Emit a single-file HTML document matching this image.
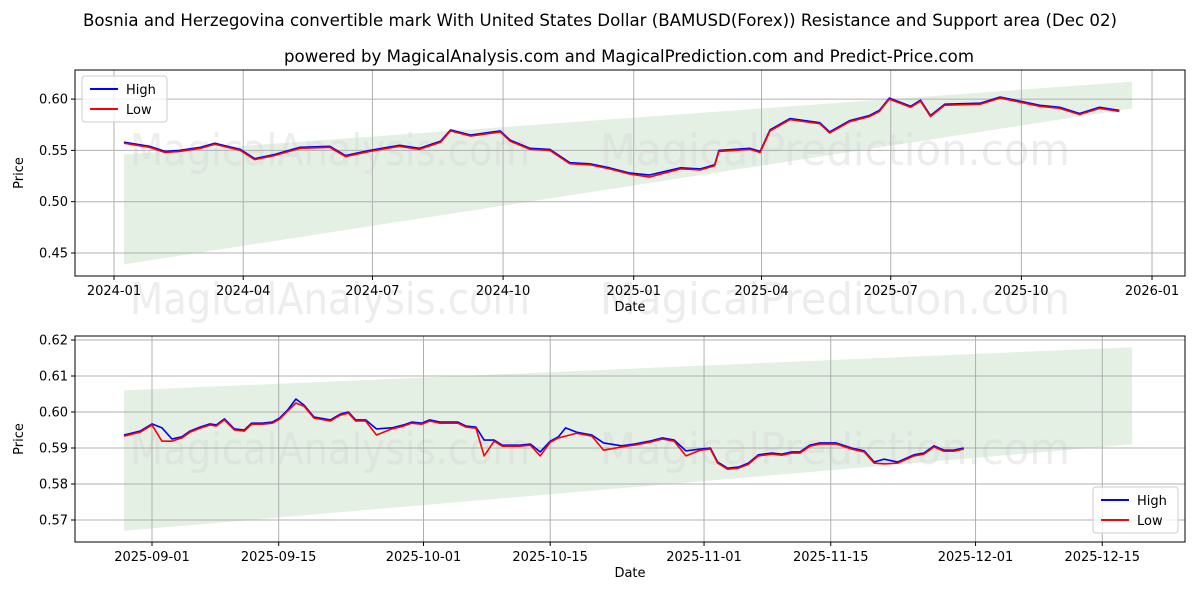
<!DOCTYPE html>
<html><head><meta charset="utf-8"><style>
body{margin:0;background:#fff;font-family:"Liberation Sans","DejaVu Sans",sans-serif}
svg text{font-family:"DejaVu Sans","Liberation Sans",sans-serif}
</style></head><body>
<svg id="c" width="1200" height="600" xmlns="http://www.w3.org/2000/svg">
<text x="600" y="26" text-anchor="middle" font-size="16.5" textLength="1034" lengthAdjust="spacingAndGlyphs">Bosnia and Herzegovina convertible mark With United States Dollar (BAMUSD(Forex)) Resistance and Support area (Dec 02)</text>
<text x="629" y="62" text-anchor="middle" font-size="16.5" textLength="690" lengthAdjust="spacingAndGlyphs">powered by MagicalAnalysis.com and MagicalPrediction.com and Predict-Price.com</text>
<text x="130" y="314" font-size="44" textLength="400" lengthAdjust="spacingAndGlyphs" fill="#d8d8d8" fill-opacity="0.45">MagicalAnalysis.com</text>
<text x="600" y="314" font-size="44" textLength="470" lengthAdjust="spacingAndGlyphs" fill="#d8d8d8" fill-opacity="0.45">MagicalPrediction.com</text>
</svg>
<script>
// top chart data (days from 2024-01-01)
const topDays=[7,25,36,46,61,71,89,99,113,131,152,163,180,201,215,230,237,251,272,279,293,307,321,335,349,363,377,399,413,423,426,448,455,462,476,497,504,518,532,539,546,561,568,575,585,610,624,638,652,666,680,694,708];
const topHigh=[.558,.554,.549,.550,.553,.557,.551,.542,.546,.553,.554,.545,.550,.555,.552,.559,.570,.565,.569,.560,.552,.551,.538,.537,.533,.528,.526,.533,.532,.536,.550,.552,.549,.570,.581,.577,.568,.579,.584,.589,.601,.593,.599,.584,.595,.596,.602,.598,.594,.592,.586,.592,.589];
const topLow=[.557,.553,.548,.549,.552,.556,.550,.541,.545,.552,.553,.544,.549,.554,.551,.558,.569,.564,.568,.559,.551,.550,.537,.536,.532,.527,.524,.532,.531,.535,.549,.551,.548,.569,.580,.576,.567,.578,.583,.588,.600,.592,.598,.583,.594,.595,.601,.597,.593,.591,.585,.591,.588];
const topBandDays=[7,717];
const topBandUpper=[.546,.617];
const topBandLower=[.439,.591];
const topYTicks=[0.45,0.50,0.55,0.60];
const topXTickDays=[0,91,182,274,366,456,547,639,731];
const topXTickLabels=["2024-01","2024-04","2024-07","2024-10","2025-01","2025-04","2025-07","2025-10","2026-01"];
// bottom chart data (days from 2025-09-01)
const botDays=[-3.1,-1.3,0,1.1,2.2,3.3,4.2,5.3,6.4,7.1,8,9.1,10.2,11,12.2,13.3,14.1,15,15.9,16.8,17.9,19.7,20.8,21.7,22.5,23.6,24.8,26.5,27.8,28.7,29.8,30.7,31.8,33.8,34.7,35.8,36.7,37.8,38.7,40.7,41.8,42.9,44,44.9,45.7,46.9,48.6,49.9,51.9,53.3,55,56.4,57.7,59,60.6,61.7,62.5,63.6,64.8,65.9,67,68.5,69.6,70.7,71.6,72.7,73.8,75.6,77.3,78.7,79.8,80.9,82.4,84.2,85.3,86.4,87.5,88.6,89.7];
const botHigh=[.5936,.5947,.5967,.5956,.5925,.5931,.5947,.5958,.5967,.5964,.5981,.5953,.595,.5969,.5969,.5972,.5983,.6006,.6036,.6019,.5986,.5978,.5994,.6,.5978,.5978,.5953,.5956,.5964,.5972,.5969,.5978,.5972,.5972,.5961,.5958,.5922,.5922,.5908,.5908,.5911,.5889,.5919,.5931,.5956,.5944,.5936,.5914,.5906,.5911,.5919,.5928,.5922,.5892,.5897,.59,.5861,.5844,.5847,.5858,.5881,.5886,.5883,.5889,.5889,.5908,.5914,.5914,.59,.5892,.5861,.5869,.5861,.5881,.5886,.5906,.5894,.5894,.59];
const botLowAdj={3:.5919,4:.5919,18:.6025,26:.5936,36:.5878,41:.5878,44:.5933,47:.5894,53:.5878,71:.5856};
const botLow=botHigh.map((v,i)=>botLowAdj[i]!==undefined?botLowAdj[i]:v-0.0003);
const botBandDays=[-3.1,108.3];
const botBandUpper=[.606,.618];
const botBandLower=[.567,.591];
const botYTicks=[0.57,0.58,0.59,0.60,0.61,0.62];
const botXTickDays=[0,14,30,44,61,75,91,105];
const botXTickLabels=["2025-09-01","2025-09-15","2025-10-01","2025-10-15","2025-11-01","2025-11-15","2025-12-01","2025-12-15"];

const NS="http://www.w3.org/2000/svg",svg=document.getElementById('c');
function mk(t,a,p){const e=document.createElementNS(NS,t);for(const k in a)e.setAttribute(k,a[k]);(p||svg).appendChild(e);return e;}
function panel(o){
 const g=mk('g',{});
 
 
 const X=d=>o.x0+(d-o.d0)*o.pxd, Y=v=>o.yb-(v-o.v0)*o.pxv;
 const band=mk('polygon',{points:`${X(o.bd[0])},${Y(o.bu[0])} ${X(o.bd[1])},${Y(o.bu[1])} ${X(o.bd[1])},${Y(o.bl[1])} ${X(o.bd[0])},${Y(o.bl[0])}`,fill:'#e3f0e3'},g);
 
 
 const wm1=mk('text',{x:130,y:o.wy,'font-size':44,textLength:400,lengthAdjust:'spacingAndGlyphs',fill:'#d8d8d8','fill-opacity':0.45},g);wm1.textContent='MagicalAnalysis.com';
 
 
 const wm2=mk('text',{x:600,y:o.wy,'font-size':44,textLength:470,lengthAdjust:'spacingAndGlyphs',fill:'#d8d8d8','fill-opacity':0.45},g);wm2.textContent='MagicalPrediction.com';
 
 
 o.xt.forEach((d,i)=>{const x=X(d);mk('line',{x1:x,x2:x,y1:o.T,y2:o.T+o.H,stroke:'#b0b0b0','stroke-width':1},g);mk('line',{x1:x,x2:x,y1:o.T+o.H,y2:o.T+o.H+4,stroke:'#000'},g);
  const t=mk('text',{x:x,y:o.T+o.H+19,'text-anchor':'middle','font-size':13},g);t.textContent=o.xl[i];
  
  });
 o.yt.forEach(v=>{const y=Y(v);mk('line',{x1:o.L,x2:o.L+o.W,y1:y,y2:y,stroke:'#b0b0b0'},g);mk('line',{x1:o.L-4,x2:o.L,y1:y,y2:y,stroke:'#000'},g);
  const t=mk('text',{x:o.L-7,y:y+4.5,'text-anchor':'end','font-size':13},g);t.textContent=v.toFixed(o.dec);
  
  });
 [[o.hi,'#0000ff','high-line'],[o.lo,'#ff0000','low-line']].forEach(([s,c,n])=>{const p=mk('polyline',{points:o.days.map((d,i)=>X(d)+','+Y(s[i])).join(' '),fill:'none',stroke:c,'stroke-width':1.6,'stroke-linejoin':'round'},g);
  
  });
 mk('rect',{x:o.L,y:o.T,width:o.W,height:o.H,fill:'none',stroke:'#000','stroke-width':1},g);
 const xl=mk('text',{x:o.L+o.W/2,y:o.T+o.H+35,'text-anchor':'middle','font-size':13},g);xl.textContent='Date';
 
 
 const yl=mk('text',{x:0,y:0,'text-anchor':'middle','font-size':13,transform:`translate(${o.L-52},${o.T+o.H/2}) rotate(-90)`},g);yl.textContent='Price';
 
 
 const lg=mk('g',{transform:`translate(${o.lx},${o.ly})`},g);
 
 
 mk('rect',{x:0,y:0,width:85,height:46,rx:3,fill:'#fff','fill-opacity':0.8,stroke:'#ccc'},lg);
 [['High','#0000ff',13],['Low','#ff0000',33]].forEach(([n,c,y])=>{mk('line',{x1:8,x2:36,y1:y,y2:y,stroke:c,'stroke-width':2},lg);const t=mk('text',{x:44,y:y+5,'font-size':13},lg);t.textContent=n;
  
  });
}
panel({name:'top-panel',L:75,T:70,W:1110,H:206,x0:114,d0:0,pxd:1.42,yb:253,v0:0.45,pxv:1026,dec:2,wy:165,
 days:topDays,hi:topHigh,lo:topLow,bd:topBandDays,bu:topBandUpper,bl:topBandLower,yt:topYTicks,xt:topXTickDays,xl:topXTickLabels,lx:82,ly:76});
panel({name:'bottom-panel',L:75,T:336,W:1110,H:206,x0:152,d0:0,pxd:9.05,yb:520,v0:0.57,pxv:3600,dec:2,wy:464,
 days:botDays,hi:botHigh,lo:botLow,bd:botBandDays,bu:botBandUpper,bl:botBandLower,yt:botYTicks,xt:botXTickDays,xl:botXTickLabels,lx:1093,ly:487});
</script>
</body></html>
